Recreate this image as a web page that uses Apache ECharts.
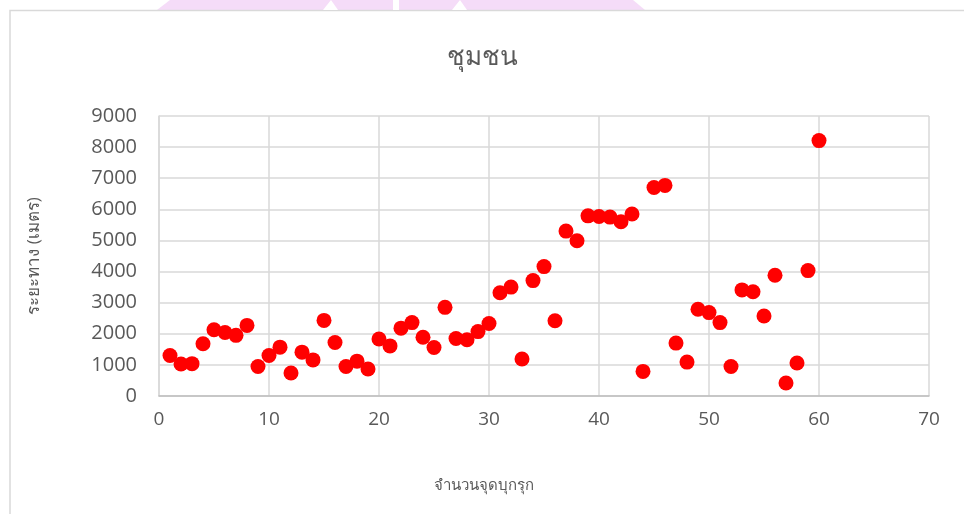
<!DOCTYPE html>
<html>
<head>
<meta charset="utf-8">
<script src="https://cdn.jsdelivr.net/npm/echarts@6/dist/echarts.min.js"></script>
<style>
html,body{margin:0;padding:0;background:#fff;}
#chart{width:964px;height:514px;}
</style>
</head>
<body>
<div id="chart"></div>
<script>
const titleText = 'ชุมชน';
const xAxisName = 'จำนวนจุดบุกรุก';
const yAxisName = 'ระยะทาง (เมตร)';
const xValues = [1,2,3,4,5,6,7,8,9,10,11,12,13,14,15,16,17,18,19,20,21,22,23,24,25,26,27,28,29,30,31,32,33,34,35,36,37,38,39,40,41,42,43,44,45,46,47,48,49,50,51,52,53,54,55,56,57,58,59,60];
const yValues = [1300,1030,1040,1680,2130,2040,1950,2270,950,1300,1570,740,1410,1160,2430,1720,950,1120,870,1830,1610,2180,2360,1890,1560,2850,1850,1810,2070,2330,3320,3500,1190,3710,4160,2420,5300,4990,5790,5770,5750,5600,5850,790,6700,6770,1700,1090,2790,2680,2360,950,3410,3350,2570,3880,420,1060,4030,8210];
const xTicks = {min:0, max:70, interval:10};
const yTicks = {min:0, max:9000, interval:1000};

const data = xValues.map((x,i)=>[x, yValues[i]]);
const chart = echarts.init(document.getElementById('chart'), null, {renderer:'canvas'});
const font = '"Open Sans", "Noto Sans", sans-serif';
chart.setOption({
  animation:false,
  backgroundColor:'#fff',
  title:{text:titleText, left:'center', top:40, textStyle:{fontFamily:font, fontSize:26, fontWeight:300, color:'#595959'}},
  grid:{left:159, right:35, top:116, bottom:118},
  xAxis:{type:'value', min:xTicks.min, max:xTicks.max, interval:xTicks.interval,
    axisLine:{show:true, lineStyle:{color:'#bfbfbf', width:1.5}}, axisTick:{show:false},
    axisLabel:{fontFamily:font, fontSize:19, color:'#595959', margin:14},
    splitLine:{show:true, lineStyle:{color:'#d9d9d9', width:1.5}}},
  yAxis:{type:'value', min:yTicks.min, max:yTicks.max, interval:yTicks.interval,
    axisLine:{show:true, lineStyle:{color:'#d9d9d9', width:1.5}}, axisTick:{show:false},
    axisLabel:{fontFamily:font, fontSize:20, color:'#595959', margin:22, formatter:(v)=>String(v)},
    splitLine:{show:true, lineStyle:{color:'#d9d9d9', width:1.5}}},
  series:[{type:'scatter', data:data, symbol:'circle', symbolSize:15, itemStyle:{color:'#ff0000', opacity:1}}],
  graphic:[
    {type:'rect', shape:{x:10, y:10.5, width:1000, height:600}, style:{fill:'none', stroke:'#d9d9d9', lineWidth:1.5}, z:-1},
    {type:'polygon', shape:{points:[[157,10],[170,0],[633,0],[645,10]]}, style:{fill:'#f5dcf8'}, z:-2},
    {type:'polygon', shape:{points:[[323,10],[331,0],[338,10]]}, style:{fill:'#ffffff'}, z:-1},
    {type:'polygon', shape:{points:[[452,10],[460,0],[467,10]]}, style:{fill:'#ffffff'}, z:-1},
    {type:'rect', shape:{x:393, y:0, width:6, height:10}, style:{fill:'#ffffff'}, z:-1},
    {type:'text', x:484, y:486, style:{text:xAxisName, font:'15px ' + font, fill:'#595959', textAlign:'center', textVerticalAlign:'middle'}},
    {type:'text', x:34, y:256, rotation:Math.PI/2, style:{text:yAxisName, font:'17px ' + font, fill:'#595959', textAlign:'center', textVerticalAlign:'middle'}}
  ]
});
</script>
</body>
</html>
